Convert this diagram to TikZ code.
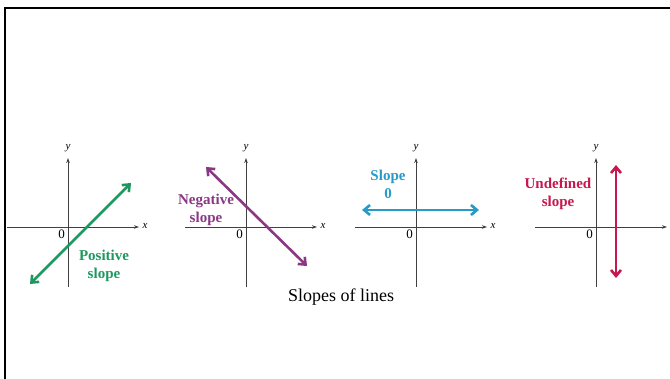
\documentclass[tikz,border=0pt]{standalone}
\usepackage{fontspec}
\setmainfont{Liberation Serif}
\usetikzlibrary{arrows.meta}
\definecolor{posgreen}{RGB}{30,152,96}
\definecolor{negpurple}{RGB}{138,56,132}
\definecolor{zeroblue}{RGB}{38,155,200}
\definecolor{undefred}{RGB}{200,22,78}
\begin{document}
\begin{tikzpicture}[
  x=1pt, y=-1pt,
  axis/.style={line width=0.8pt, black!75, -{Stealth[length=5pt,width=3.5pt]}},
  axlabel/.style={font=\fontsize{11}{12}\selectfont\itshape, inner sep=0pt},
  zerolabel/.style={font=\fontsize{13}{14}\selectfont, inner sep=0pt},
  slopeline/.style={line width=2.6pt,
    {Straight Barb[length=6pt,width=10pt]}-{Straight Barb[length=6pt,width=10pt]}},
  slopelabel/.style={font=\fontsize{15}{18}\selectfont\bfseries, align=center, inner sep=0pt}
]
  \useasboundingbox (0,0) rectangle (670,379);

  % Cadre
  \coordinate (fb) at (5,379);
  \coordinate (ftl) at (5,8);
  \coordinate (fr) at (672,8);
  \draw[line width=2.2pt] (fb) -- (ftl) -- (fr);

  % Axes
  \foreach \n/\ox in {1/68,2/246,3/416,4/596} {
    \coordinate (xl\n) at (\ox-61,227);
    \coordinate (xr\n) at (\ox+71,227);
    \coordinate (yb\n) at (\ox,287);
    \coordinate (yt\n) at (\ox,158);
    \draw[axis] (xl\n) -- (xr\n);
    \draw[axis] (yb\n) -- (yt\n);
    \node[axlabel] (ylab\n) at (\ox,148) {y};
    \node[zerolabel] (zero\n) at (\ox-6.5,234.5) {0};
  }
  \foreach \n/\ox in {1/68,2/246,3/416} {
    \node[axlabel] (xlab\n) at (\ox+77,226) {x};
  }

  % Droites
  \coordinate (pa) at (30,284);
  \coordinate (pb) at (131,183);
  \draw[slopeline, posgreen] (pa) -- (pb);

  \coordinate (na) at (206,167);
  \coordinate (nb) at (307,266);
  \draw[slopeline, negpurple] (na) -- (nb);

  \coordinate (za) at (362,210);
  \coordinate (zb) at (479,210);
  \draw[slopeline, zeroblue] (za) -- (zb);

  \coordinate (ua) at (616,165);
  \coordinate (ub) at (616,278);
  \draw[slopeline, undefred] (ua) -- (ub);

  % Annotations
  \node[slopelabel, posgreen] (pos) at (104,266) {Positive\\slope};
  \node[slopelabel, negpurple] (neg) at (206,210) {Negative\\slope};
  \node[slopelabel, zeroblue] (zero) at (388,184) {Slope\\0};
  \node[slopelabel, undefred] (undef) at (558,194) {Undefined\\slope};

  \node[font=\fontsize{18}{20}\selectfont] (caption) at (341,297) {Slopes of lines};
\end{tikzpicture}
\end{document}
